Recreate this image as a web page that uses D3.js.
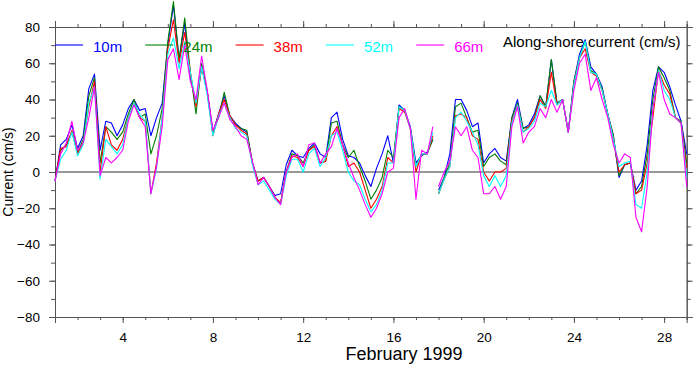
<!DOCTYPE html>
<html><head><meta charset="utf-8">
<script src="https://cdn.jsdelivr.net/npm/d3@7"></script>
<style>body{margin:0;background:#fff}svg{display:block}text{font-family:"Liberation Sans",Arial,Helvetica,sans-serif}</style>
</head><body><svg id="c" width="694" height="366"></svg>
<script>
// time grid: quarter-day steps, Feb 1 .. Mar 1 (day 1 .. 29)
const days = d3.range(0, 113).map(i => 1 + i / 4);
const gapAfter = 17.75; // data gap between day 17.75 and 18
const depths = ["10m", "24m", "38m", "52m", "66m"];
const colors = ["#0000ff", "#008000", "#ff0000", "#00ffff", "#ff00ff"];
const s10 = [-5,15,18,26,13,20,46,54,12,28,27,20,26,35,40,34,35,20,30,38,70,92,62,82,52,38,58,44,22,32,42,31,27,24,22,5,-5,-3,-8,-13,-12,4,12,9,8,13,16,10,8,30,33,18,9,8,5,-2,-8,2,10,20,5,37,34,25,5,9,11,18,-10,-3,10,40,40,34,25,27,5,10,13,8,6,30,40,24,26,32,42,36,62,38,40,22,50,65,73,58,54,47,32,20,-3,4,5,-10,-5,15,45,58,55,47,37,28,10];
const s24 = [-5,12,15,22,11,18,42,52,5,25,22,18,22,32,40,30,32,10,20,35,72,94,62,85,55,32,60,44,22,30,44,31,26,24,23,5,-5,-3,-8,-14,-17,0,10,9,5,12,15,5,6,27,28,15,8,12,3,-5,-15,-10,-3,12,8,36,34,24,3,10,10,18,-12,-3,5,36,38,30,22,23,3,8,10,6,4,30,38,24,25,30,42,36,62,38,40,22,50,63,72,56,54,46,32,20,-2,4,5,-12,-8,10,40,58,52,45,30,28,5];
const s38 = [-5,13,14,23,10,16,36,50,0,25,15,12,18,30,38,30,28,-12,5,30,68,84,60,77,55,36,58,44,20,32,40,31,26,23,21,5,-5,-3,-8,-14,-17,0,9,8,3,12,14,5,6,20,25,15,3,5,0,-10,-20,-15,-8,8,5,35,33,24,0,10,10,20,-12,-4,3,31,32,30,20,18,0,-5,0,0,2,28,37,22,25,30,40,35,55,37,40,22,48,63,68,55,53,45,32,18,0,4,5,-12,-10,5,30,56,48,43,30,27,2];
const s52 = [-5,7,12,22,9,15,38,47,-4,18,14,10,15,30,38,32,28,-12,2,30,65,74,57,72,55,38,58,42,20,31,38,30,24,22,20,4,-7,-5,-10,-15,-18,-2,7,7,0,10,13,3,8,20,22,12,0,-5,-7,-15,-22,-18,-10,5,5,36,34,24,3,10,10,22,-12,-4,3,30,33,28,22,15,-2,-8,-2,-8,-2,27,37,22,24,28,38,36,45,37,40,22,48,63,72,55,54,45,32,18,3,5,6,-18,-20,0,35,56,45,40,30,27,-3];
const s66 = [-5,10,16,28,12,16,30,47,-2,8,5,8,12,28,37,30,25,-12,3,25,62,68,51,70,50,40,64,45,23,30,38,29,25,20,18,6,-7,-3,-8,-14,-18,0,8,10,3,15,16,5,10,14,24,15,5,-3,-10,-18,-25,-20,-12,0,2,30,35,24,-15,12,10,25,-8,0,6,25,20,25,12,8,-12,-12,-8,-15,-8,25,36,16,22,25,35,30,40,33,40,22,45,60,65,45,52,40,30,15,5,10,8,-25,-33,-8,35,55,40,32,30,27,-8];
const seriesValues = [s10, s24, s38, s52, s66];
const majorXTicks = [4, 8, 12, 16, 20, 24, 28];
const majorYTicks = [-80, -60, -40, -20, 0, 20, 40, 60, 80];
const xTitle = "February 1999";
const yTitle = "Current (cm/s)";
const chartTitle = "Along-shore current (cm/s)";

const svg = d3.select("#c");
const L = 55, R = 686.7, T = 27, B = 317;
const x = d3.scaleLinear().domain([1, 29]).range([L, R]);
const y = d3.scaleLinear().domain([-80, 80]).range([B, T]);
const axisColor = "#555";
const fontSize = 13.5;

function styleAxis(g) {
  g.select(".domain").attr("stroke", axisColor);
  g.selectAll(".tick line").attr("stroke", axisColor);
  g.selectAll(".tick text").attr("fill", "#000").style("font-size", fontSize + "px");
}
const minorX = d3.range(1, 30);
const minorY = d3.range(-80, 81, 10);
// bottom
svg.append("g").attr("transform", `translate(0,${B})`).call(d3.axisBottom(x).tickValues(minorX).tickSize(3).tickFormat("")).call(styleAxis);
svg.append("g").attr("transform", `translate(0,${B})`).call(d3.axisBottom(x).tickValues(majorXTicks).tickSize(6).tickPadding(9).tickFormat(d3.format("d"))).call(styleAxis);
// top
svg.append("g").attr("transform", `translate(0,${T})`).call(d3.axisTop(x).tickValues(minorX).tickSize(3).tickFormat("")).call(styleAxis);
svg.append("g").attr("transform", `translate(0,${T})`).call(d3.axisTop(x).tickValues(majorXTicks).tickSize(6).tickFormat("")).call(styleAxis);
// left
svg.append("g").attr("transform", `translate(${L},0)`).call(d3.axisLeft(y).tickValues(minorY).tickSize(4).tickFormat("")).call(styleAxis);
svg.append("g").attr("transform", `translate(${L},0)`).call(d3.axisLeft(y).tickValues(majorYTicks).tickSize(6).tickPadding(9).tickFormat(d3.format("d"))).call(styleAxis);
// right
svg.append("g").attr("transform", `translate(${R},0)`).call(d3.axisRight(y).tickValues(minorY).tickSize(4).tickFormat("")).call(styleAxis);
svg.append("g").attr("transform", `translate(${R},0)`).call(d3.axisRight(y).tickValues(majorYTicks).tickSize(6).tickFormat("")).call(styleAxis);

// zero line
svg.append("line").attr("x1", L).attr("x2", R).attr("y1", y(0)).attr("y2", y(0))
  .attr("stroke", "#333").attr("stroke-width", 1.2);

// series
const line = d3.line().x(d => x(d[0])).y(d => y(d[1]));
seriesValues.forEach((vals, si) => {
  const pts = days.map((d, i) => [d, vals[i]]);
  const segs = [pts.filter(p => p[0] <= gapAfter), pts.filter(p => p[0] > gapAfter)];
  segs.forEach(seg => {
    svg.append("path").attr("d", line(seg)).attr("fill", "none")
      .attr("stroke", colors[si]).attr("stroke-width", 1.1).attr("stroke-linejoin", "round");
  });
});

// legend
depths.forEach((dname, i) => {
  const lx = 55 + i * 90.3;
  svg.append("line").attr("x1", lx).attr("x2", lx + 28).attr("y1", 45).attr("y2", 45)
    .attr("stroke", colors[i]).attr("stroke-width", 1.1);
  svg.append("text").attr("x", lx + 38).attr("y", 52).attr("fill", colors[i])
    .style("font-size", "15px").text(dname);
});
svg.append("text").attr("x", 503).attr("y", 47).attr("fill", "#000").style("font-size", "15px").text(chartTitle);

// axis titles
svg.append("text").attr("x", 404).attr("y", 360).attr("text-anchor", "middle")
  .style("font-size", "18px").attr("fill", "#000").text(xTitle);
svg.append("text").attr("transform", `translate(13,${y(0)}) rotate(-90)`).attr("text-anchor", "middle")
  .style("font-size", "14px").attr("fill", "#000").text(yTitle);
</script></body></html>
